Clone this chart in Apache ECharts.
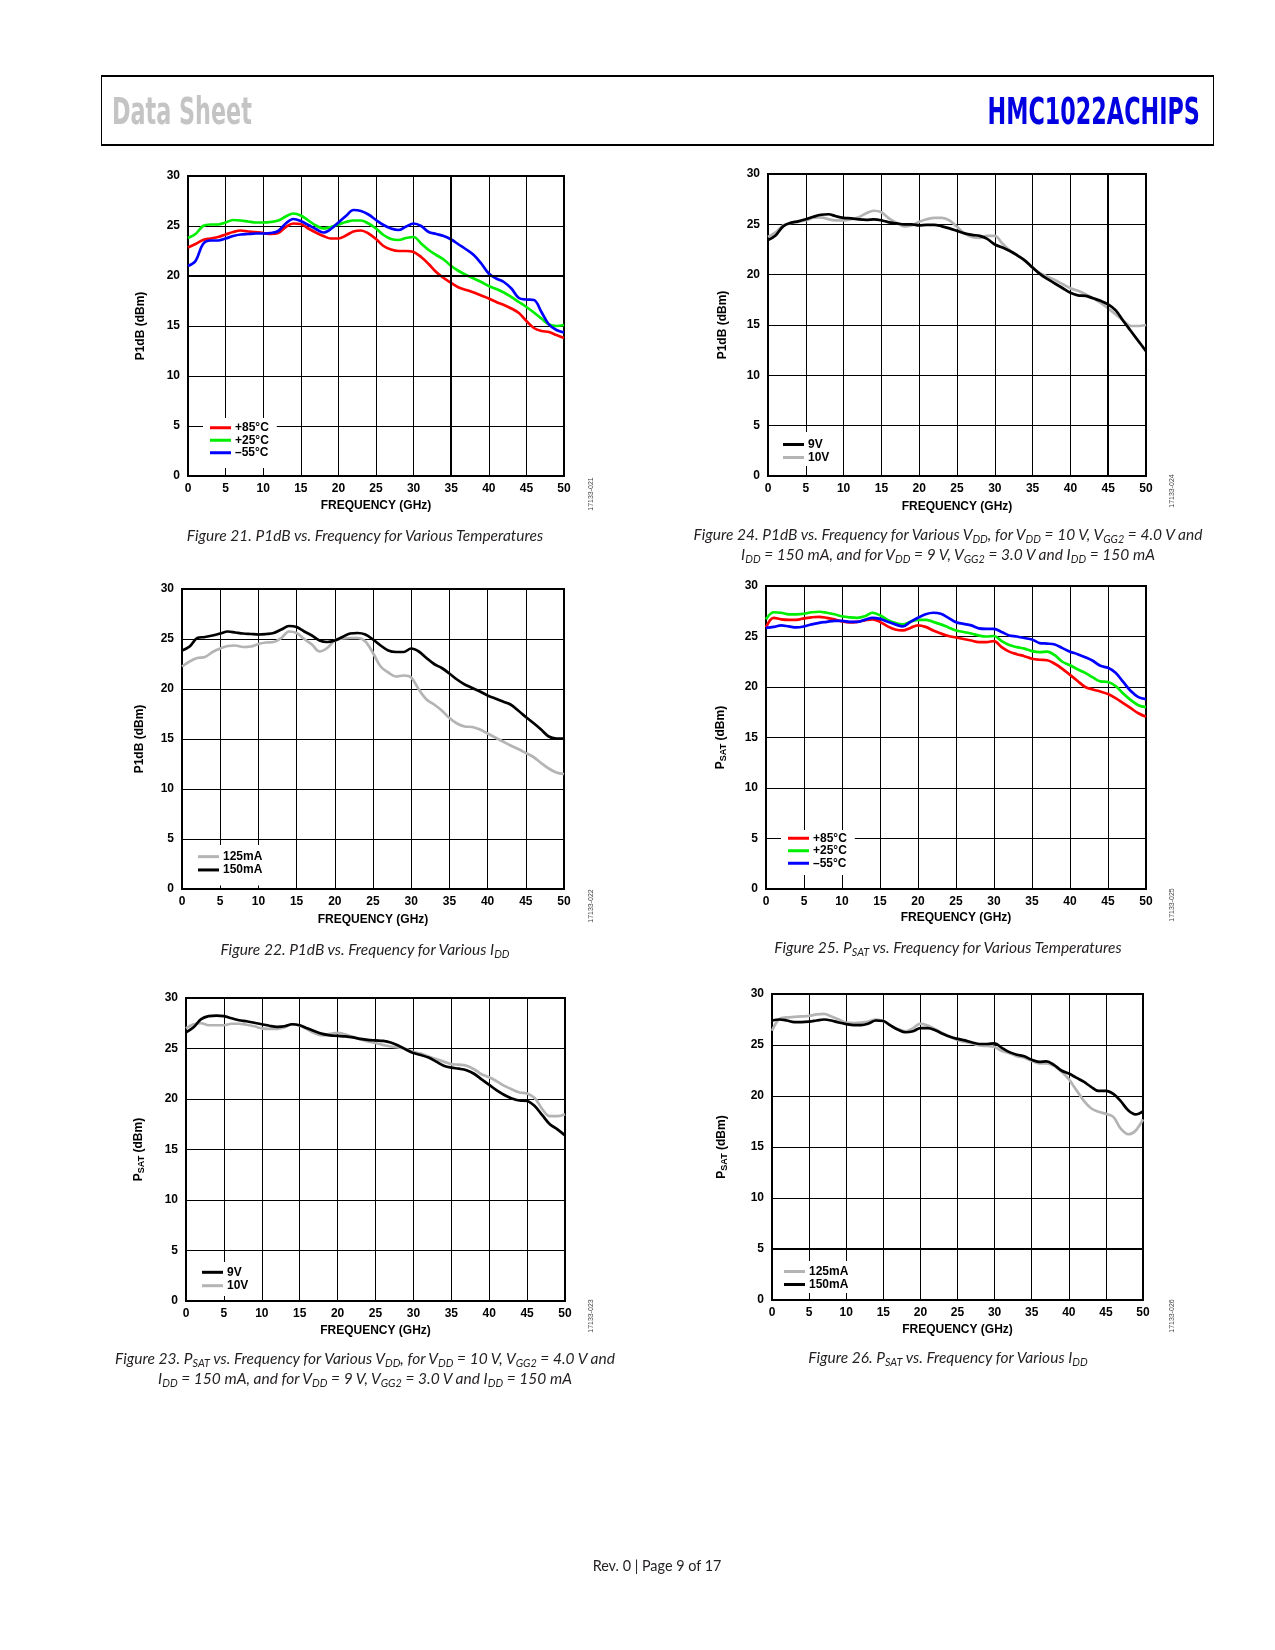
<!DOCTYPE html>
<html>
<head>
<meta charset="utf-8">
<script src="https://cdn.jsdelivr.net/npm/echarts@6/dist/echarts.min.js"></script>
<style>
  html, body { margin:0; padding:0; background:#fff; }
  #page { position:relative; width:1275px; height:1650px; overflow:hidden; background:#fff; }
  #chart { position:absolute; left:0; top:0; width:1275px; height:1650px; }
  .hdrbox { position:absolute; left:101px; top:75px; width:1111px; height:67px; border-top:2px solid #000; border-bottom:2px solid #000; border-left:1px solid #000; border-right:1px solid #000; }
  .hdr { position:absolute; top:93px; font-family:"Liberation Sans Narrow","DejaVu Sans Condensed","Liberation Sans",sans-serif; font-weight:bold; font-size:37px; line-height:37px; white-space:nowrap; }
  .hdr.l { left:112px; color:#c4c4c4; transform:scaleX(0.67); transform-origin:left center; }
  .hdr.r { right:75px; color:#0000e0; transform:scaleX(0.67); transform-origin:right center; }
  .cap { position:absolute; font-family:Lato,"Open Sans",sans-serif; font-style:italic; font-size:15.5px; line-height:19px; color:#231f20; white-space:nowrap; text-align:center; transform:translateX(-50%); }
  .cap sub { font-size:0.7em; vertical-align:baseline; position:relative; top:0.25em; }
  .foot { position:absolute; left:657px; top:1557px; transform:translateX(-50%); font-family:Lato,"Open Sans",sans-serif; font-size:14.4px; line-height:18px; color:#231f20; white-space:nowrap; }
</style>
</head>
<body>
<div id="page">
  <div id="chart"></div>
  <div class="hdrbox"></div>
  <div class="hdr l">Data Sheet</div>
  <div class="hdr r">HMC1022ACHIPS</div>
  <div class="cap" style="left:365px;top:526px;">Figure 21. P1dB vs. Frequency for Various Temperatures</div>
  <div class="cap" style="left:948px;top:525px;">Figure 24. P1dB vs. Frequency for Various V<sub>DD</sub>, for V<sub>DD</sub> = 10 V, V<sub>GG2</sub> = 4.0 V and<br>I<sub>DD</sub> = 150 mA, and for V<sub>DD</sub> = 9 V, V<sub>GG2</sub> = 3.0 V and I<sub>DD</sub> = 150 mA</div>
  <div class="cap" style="left:365px;top:940px;">Figure 22. P1dB vs. Frequency for Various I<sub>DD</sub></div>
  <div class="cap" style="left:948px;top:938px;">Figure 25. P<sub>SAT</sub> vs. Frequency for Various Temperatures</div>
  <div class="cap" style="left:365px;top:1349px;">Figure 23. P<sub>SAT</sub> vs. Frequency for Various V<sub>DD</sub>, for V<sub>DD</sub> = 10 V, V<sub>GG2</sub> = 4.0 V and<br>I<sub>DD</sub> = 150 mA, and for V<sub>DD</sub> = 9 V, V<sub>GG2</sub> = 3.0 V and I<sub>DD</sub> = 150 mA</div>
  <div class="cap" style="left:948px;top:1348px;">Figure 26. P<sub>SAT</sub> vs. Frequency for Various I<sub>DD</sub></div>
  <div class="foot">Rev. 0 | Page 9 of 17</div>
</div>
<script>
// ---------- DATA ----------
const FREQ = [0,1,2,3,4,5,6,7,8,9,10,11,12,13,14,15,16,17,18,19,20,21,22,23,24,25,26,27,28,29,30,31,32,33,34,35,36,37,38,39,40,41,42,43,44,45,46,47,48,49,50];
const X_TICKS = [0,5,10,15,20,25,30,35,40,45,50];
const Y_TICKS = [0,5,10,15,20,25,30];

// Figure 21: P1dB vs frequency, temperatures
const F21_P85 = [22.85,23.2,23.6,23.75,23.9,24.15,24.4,24.55,24.45,24.4,24.3,24.2,24.3,24.9,25.25,25.2,24.75,24.35,24.0,23.75,23.75,24.05,24.45,24.55,24.25,23.7,23.0,22.65,22.5,22.5,22.4,21.9,21.2,20.4,19.8,19.3,18.85,18.6,18.35,18.05,17.75,17.4,17.1,16.75,16.3,15.5,14.8,14.5,14.4,14.1,13.8];
const F21_P25 = [23.8,24.2,25.0,25.15,25.15,25.35,25.6,25.55,25.45,25.35,25.35,25.4,25.55,25.95,26.25,26.05,25.55,25.05,24.75,24.9,25.15,25.4,25.55,25.55,25.25,24.75,24.1,23.7,23.6,23.8,23.9,23.25,22.6,22.1,21.65,21.0,20.5,20.1,19.75,19.4,19.0,18.7,18.35,17.9,17.4,16.9,16.35,15.75,15.15,15.0,15.1];
const F21_M55 = [21.0,21.5,23.2,23.55,23.55,23.75,24.0,24.15,24.2,24.25,24.25,24.3,24.5,25.25,25.7,25.5,25.1,24.7,24.35,24.7,25.35,26.0,26.6,26.5,26.15,25.6,25.1,24.75,24.6,24.95,25.25,25.0,24.4,24.2,24.0,23.65,23.15,22.65,22.1,21.25,20.25,19.75,19.4,18.75,17.8,17.65,17.6,16.4,15.15,14.6,14.35];

// Figure 22: P1dB vs frequency, IDD
const F22_125MA = [22.25,22.75,23.1,23.2,23.7,24.05,24.3,24.35,24.2,24.25,24.5,24.65,24.7,25.1,25.75,25.6,25.0,24.45,23.75,24.1,24.85,25.05,25.1,25.1,24.75,23.6,22.25,21.65,21.25,21.35,21.15,19.95,18.95,18.45,17.85,17.1,16.55,16.25,16.2,15.95,15.55,15.15,14.75,14.35,14.0,13.6,13.2,12.6,12.05,11.65,11.5];
const F22_150MA = [23.85,24.25,25.1,25.2,25.35,25.55,25.75,25.65,25.55,25.5,25.45,25.5,25.6,25.95,26.3,26.2,25.75,25.35,24.85,24.7,24.85,25.2,25.55,25.6,25.45,24.95,24.35,23.85,23.7,23.7,24.05,23.75,23.1,22.5,22.1,21.55,20.95,20.45,20.1,19.75,19.35,19.05,18.75,18.45,17.85,17.2,16.6,15.95,15.25,15.05,15.05];

// Figure 23: PSAT vs frequency, VDD
const F23_9V = [26.6,27.1,27.9,28.2,28.25,28.2,28.0,27.8,27.7,27.55,27.4,27.25,27.15,27.2,27.4,27.3,27.0,26.7,26.45,26.3,26.25,26.2,26.1,25.95,25.85,25.8,25.75,25.6,25.3,24.9,24.55,24.35,24.1,23.7,23.3,23.1,23.0,22.85,22.5,21.95,21.4,20.85,20.4,20.05,19.85,19.8,19.3,18.4,17.5,17.0,16.4];
const F23_10V = [27.0,27.4,27.5,27.3,27.3,27.3,27.45,27.45,27.35,27.2,27.0,26.95,26.95,27.1,27.4,27.25,26.9,26.5,26.3,26.45,26.55,26.4,26.15,25.9,25.7,25.55,25.35,25.2,25.1,24.95,24.65,24.5,24.2,23.95,23.7,23.45,23.4,23.3,22.95,22.45,22.15,21.75,21.3,20.95,20.65,20.55,20.1,19.0,18.3,18.3,18.5];

// Figure 24: P1dB vs frequency, VDD
const F24_9V = [23.45,23.9,24.8,25.15,25.3,25.5,25.75,25.95,26.0,25.8,25.65,25.6,25.5,25.45,25.5,25.4,25.2,25.1,25.0,25.0,24.9,24.95,24.95,24.8,24.6,24.35,24.1,23.95,23.85,23.55,23.0,22.7,22.35,21.9,21.4,20.7,20.05,19.55,19.1,18.65,18.2,17.95,17.9,17.65,17.4,17.05,16.45,15.4,14.4,13.4,12.4];
const F24_10V = [23.75,24.2,24.9,25.15,25.25,25.4,25.65,25.7,25.5,25.4,25.4,25.5,25.7,26.1,26.35,26.2,25.6,25.15,24.8,24.9,25.25,25.5,25.65,25.65,25.4,24.75,24.1,23.75,23.65,23.85,23.85,23.1,22.4,21.95,21.35,20.7,20.15,19.8,19.45,19.05,18.65,18.4,18.05,17.65,17.2,16.65,16.05,15.45,14.9,14.9,15.0];

// Figure 25: PSAT vs frequency, temperatures
const F25_P85 = [25.9,26.85,26.7,26.65,26.65,26.8,26.9,26.95,26.85,26.7,26.5,26.4,26.45,26.6,26.7,26.45,26.0,25.7,25.6,25.85,26.1,25.95,25.6,25.3,25.05,24.9,24.75,24.6,24.45,24.45,24.55,23.95,23.5,23.25,23.05,22.8,22.7,22.65,22.3,21.8,21.2,20.6,20.0,19.75,19.55,19.3,18.9,18.4,17.9,17.4,17.05];
const F25_P25 = [26.7,27.4,27.35,27.2,27.2,27.25,27.4,27.45,27.35,27.2,27.0,26.9,26.85,27.0,27.35,27.1,26.65,26.35,26.2,26.45,26.65,26.65,26.45,26.2,25.9,25.6,25.45,25.3,25.1,25.0,25.05,24.55,24.15,23.95,23.8,23.55,23.45,23.5,23.15,22.5,22.15,21.75,21.4,20.95,20.55,20.5,20.1,19.35,18.7,18.2,18.0];
const F25_M55 = [25.85,25.95,26.1,26.0,25.9,26.0,26.2,26.35,26.45,26.55,26.55,26.45,26.45,26.65,26.85,26.75,26.45,26.2,26.0,26.45,26.85,27.2,27.35,27.25,26.85,26.4,26.25,26.1,25.8,25.75,25.75,25.45,25.1,25.0,24.85,24.7,24.35,24.3,24.2,23.85,23.5,23.25,22.95,22.6,22.1,21.9,21.4,20.5,19.6,19.0,18.8];

// Figure 26: PSAT vs frequency, IDD
const F26_125MA = [26.4,27.55,27.7,27.75,27.8,27.85,28.0,28.05,27.8,27.5,27.2,27.15,27.2,27.3,27.5,27.35,26.9,26.55,26.35,26.65,27.1,26.9,26.55,26.15,25.8,25.5,25.3,25.15,24.95,24.9,24.8,24.4,24.2,23.9,23.75,23.45,23.2,23.2,22.95,22.4,21.65,20.6,19.55,18.8,18.45,18.25,17.95,16.8,16.25,16.6,17.7];
const F26_150MA = [27.4,27.5,27.4,27.25,27.25,27.3,27.4,27.5,27.4,27.2,27.05,26.95,26.95,27.1,27.4,27.35,26.9,26.5,26.25,26.35,26.65,26.65,26.45,26.1,25.8,25.6,25.45,25.25,25.1,25.1,25.15,24.7,24.3,24.05,23.9,23.55,23.35,23.4,23.05,22.5,22.2,21.8,21.4,20.9,20.5,20.5,20.2,19.5,18.6,18.2,18.5];

const FIG_IDS = ['17133-021','17133-022','17133-023','17133-024','17133-025','17133-026'];

// ---------- STYLE / LAYOUT ----------
const RED = '#ff0000', GREEN = '#00ee00', BLUE = '#0000ff', BLACK = '#000000', GRAY = '#b4b4b4';
const FONT = 'Liberation Sans';
const P1DB = 'P1dB (dBm)';
const PSAT = '{p|P}{s|SAT}{p| (dBm)}';

const charts = [
  { grid:[188,176,376,300], yName:P1DB, yGap:41, xGap:24,
    series:[['+85°C',F21_P85,RED],['+25°C',F21_P25,GREEN],['–55°C',F21_M55,BLUE]],
    legendOrder:['+85°C','+25°C','–55°C'], legend:{left:203,top:418,pad:[3.5,8,9,7],lh:12.5},
    marks:[{xAxis:35},{yAxis:20}], id:[591,494] },
  { grid:[182,589,382,300], yName:P1DB, yGap:36, xGap:25,
    series:[['125mA',F22_125MA,GRAY],['150mA',F22_150MA,BLACK]],
    legendOrder:['125mA','150mA'], legend:{left:191,top:845,pad:[5,8,9,7],lh:13.3},
    marks:[], id:[591,906] },
  { grid:[186,998,379,303], yName:PSAT, yGap:40, xGap:24,
    series:[['10V',F23_10V,GRAY],['9V',F23_9V,BLACK]],
    legendOrder:['9V','10V'], legend:{left:196,top:1262,pad:[3.6,8,3.6,6],lh:13.4},
    marks:[], id:[591,1316] },
  { grid:[768,174,378,302], yName:P1DB, yGap:39, xGap:25,
    series:[['10V',F24_10V,GRAY],['9V',F24_9V,BLACK]],
    legendOrder:['9V','10V'], legend:{left:776,top:432,pad:[6,8,2,7],lh:13},
    marks:[{xAxis:45}], id:[1172,491] },
  { grid:[766,586,380,303], yName:PSAT, yGap:38, xGap:23,
    series:[['+85°C',F25_P85,RED],['+25°C',F25_P25,GREEN],['–55°C',F25_M55,BLUE]],
    legendOrder:['+85°C','+25°C','–55°C'], legend:{left:781,top:830,pad:[2,8,5.5,7],lh:12.5},
    marks:[], id:[1172,905] },
  { grid:[772,994,371,306], yName:PSAT, yGap:43, xGap:24,
    series:[['125mA',F26_125MA,GRAY],['150mA',F26_150MA,BLACK]],
    legendOrder:['125mA','150mA'], legend:{left:777,top:1261,pad:[4,8,2,7],lh:13},
    marks:[{yAxis:5}], id:[1172,1316] }
];

const labelStyle = { color:'#000', fontFamily:FONT, fontWeight:'bold', fontSize:12 };
const nameStyle = { color:'#000', fontFamily:FONT, fontWeight:'bold', fontSize:12,
  rich:{ p:{ color:'#000', fontFamily:FONT, fontWeight:'bold', fontSize:12, lineHeight:14 },
         s:{ color:'#000', fontFamily:FONT, fontWeight:'bold', fontSize:9, lineHeight:9, verticalAlign:'bottom' } } };

const option = { animation:false, backgroundColor:'transparent', grid:[], xAxis:[], yAxis:[], series:[], legend:[], graphic:[] };

charts.forEach((c, i) => {
  option.grid.push({ left:c.grid[0], top:c.grid[1], width:c.grid[2], height:c.grid[3], show:true, borderColor:'#000', borderWidth:2, containLabel:false });
  option.xAxis.push({ gridIndex:i, type:'value', min:X_TICKS[0], max:X_TICKS[X_TICKS.length-1], interval:X_TICKS[1]-X_TICKS[0],
    axisLine:{show:false}, axisTick:{show:false},
    axisLabel:{ margin:7, ...labelStyle, showMinLabel:true, showMaxLabel:true },
    splitLine:{ show:true, lineStyle:{ color:'#000', width:1 } },
    name:'FREQUENCY (GHz)', nameLocation:'middle', nameGap:c.xGap, nameTextStyle:labelStyle });
  option.yAxis.push({ gridIndex:i, type:'value', min:Y_TICKS[0], max:Y_TICKS[Y_TICKS.length-1], interval:Y_TICKS[1]-Y_TICKS[0],
    axisLine:{show:false}, axisTick:{show:false},
    axisLabel:{ margin:8, ...labelStyle, showMinLabel:true, showMaxLabel:true },
    splitLine:{ show:true, lineStyle:{ color:'#000', width:1 } },
    name:c.yName, nameLocation:'middle', nameGap:c.yGap, nameRotate:90, nameTextStyle:nameStyle });
  c.series.forEach((s, k) => {
    const ser = { type:'line', name:s[0], xAxisIndex:i, yAxisIndex:i,
      data: FREQ.map((f, j) => [f, s[1][j]]),
      smooth:0.35, symbol:'none', lineStyle:{ color:s[2], width:2.7 }, itemStyle:{ color:s[2] }, z:3 };
    if (k === 0 && c.marks.length) {
      ser.markLine = { silent:true, symbol:['none','none'], label:{show:false}, animation:false,
        lineStyle:{ color:'#000', width:2, type:'solid' }, data:c.marks };
    }
    option.series.push(ser);
  });
  option.legend.push({ data:c.legendOrder, orient:'vertical', left:c.legend.left, top:c.legend.top,
    padding:c.legend.pad, backgroundColor:'#fff', icon:'rect', itemWidth:21, itemHeight:3, itemGap:0,
    selectedMode:false, itemStyle:{ borderWidth:0 },
    textStyle:{ color:'#000', fontFamily:FONT, fontWeight:'bold', fontSize:12, lineHeight:c.legend.lh, padding:[0,0,0,-1] } });
  option.graphic.push({ type:'text', x:c.id[0], y:c.id[1], rotation:Math.PI/2,
    style:{ text:FIG_IDS[i], fontSize:7, fontFamily:FONT, fill:'#444', align:'center', verticalAlign:'middle' } });
});

const chart = echarts.init(document.getElementById('chart'), null, { renderer:'canvas', width:1275, height:1650 });
chart.setOption(option);
</script>
</body>
</html>
